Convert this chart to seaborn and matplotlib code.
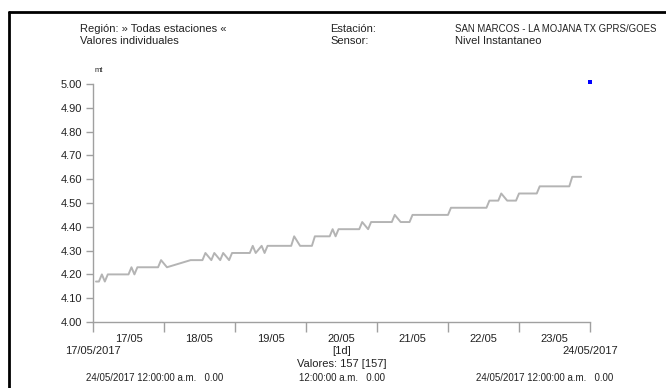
import matplotlib
matplotlib.use('Agg')
import matplotlib.pyplot as plt
import matplotlib.dates as mdates
from matplotlib.lines import Line2D
import seaborn as sns
import pandas as pd

# ---- datos (Nivel Instantaneo, mt) ----
fechas = ['2017-05-17 01:00', '2017-05-17 02:00', '2017-05-17 03:00', '2017-05-17 04:00',
          '2017-05-17 05:00', '2017-05-17 12:00', '2017-05-17 13:00', '2017-05-17 14:00',
          '2017-05-17 15:00', '2017-05-17 22:00', '2017-05-17 23:00', '2017-05-18 01:00',
          '2017-05-18 09:00', '2017-05-18 13:00', '2017-05-18 14:00', '2017-05-18 16:00',
          '2017-05-18 17:00', '2017-05-18 19:00', '2017-05-18 20:00', '2017-05-18 22:00',
          '2017-05-18 23:00', '2017-05-19 05:00', '2017-05-19 06:00', '2017-05-19 07:00',
          '2017-05-19 09:00', '2017-05-19 10:00', '2017-05-19 11:00', '2017-05-19 19:00',
          '2017-05-19 20:00', '2017-05-19 22:00', '2017-05-20 02:00', '2017-05-20 03:00',
          '2017-05-20 08:00', '2017-05-20 09:00', '2017-05-20 10:00', '2017-05-20 11:00',
          '2017-05-20 18:00', '2017-05-20 19:00', '2017-05-20 21:00', '2017-05-20 22:00',
          '2017-05-21 05:00', '2017-05-21 06:00', '2017-05-21 08:00', '2017-05-21 11:00',
          '2017-05-21 12:00', '2017-05-22 00:00', '2017-05-22 01:00', '2017-05-22 13:00',
          '2017-05-22 14:00', '2017-05-22 17:00', '2017-05-22 18:00', '2017-05-22 20:00',
          '2017-05-22 23:00', '2017-05-23 00:00', '2017-05-23 06:00', '2017-05-23 07:00',
          '2017-05-23 17:00', '2017-05-23 18:00', '2017-05-23 21:00']
nivel = [4.17, 4.17, 4.20, 4.17, 4.20, 4.20, 4.23, 4.20,
         4.23, 4.23, 4.26, 4.23, 4.26, 4.26, 4.29, 4.26,
         4.29, 4.26, 4.29, 4.26, 4.29, 4.29, 4.32, 4.29,
         4.32, 4.29, 4.32, 4.32, 4.36, 4.32, 4.32, 4.36,
         4.36, 4.39, 4.36, 4.39, 4.39, 4.42, 4.39, 4.42,
         4.42, 4.45, 4.42, 4.42, 4.45, 4.45, 4.48, 4.48,
         4.51, 4.51, 4.54, 4.51, 4.51, 4.54, 4.54, 4.57,
         4.57, 4.61, 4.61]

# punto azul al final
punto_fecha = ['2017-05-24 00:00']
punto_valor = [5.01]

y_ticks = [4.00, 4.10, 4.20, 4.30, 4.40, 4.50, 4.60, 4.70, 4.80, 4.90, 5.00]

df = pd.DataFrame({'fecha': pd.to_datetime(fechas), 'nivel': nivel})
df_punto = pd.DataFrame({'fecha': pd.to_datetime(punto_fecha), 'nivel': punto_valor})

sns.set_style('white')
plt.rcParams['font.family'] = ['Liberation Sans', 'DejaVu Sans']

W, H = 666, 388
fig = plt.figure(figsize=(W / 100, H / 100), dpi=100)
ax = fig.add_axes([93 / W, 1 - 322 / H, (590 - 93) / W, (322 - 84) / H])

sns.lineplot(data=df, x='fecha', y='nivel', ax=ax, color='#b4b4b4',
             linewidth=1.4, estimator=None)
sns.scatterplot(data=df_punto, x='fecha', y='nivel', ax=ax, color='#0000ff',
                marker='s', s=10, linewidth=0, clip_on=False, zorder=5)

ax.set_xlim(pd.Timestamp('2017-05-17'), pd.Timestamp('2017-05-24'))
ax.set_ylim(4.0, 5.0)
ax.set_xlabel('')
ax.set_ylabel('')

# ejes
for s in ['top', 'right']:
    ax.spines[s].set_visible(False)
for s in ['left', 'bottom']:
    ax.spines[s].set_color('#a0a0a0')
    ax.spines[s].set_linewidth(1.0)

ax.set_yticks(y_ticks)
ax.set_yticklabels([f'{v:.2f}' for v in y_ticks])
ax.tick_params(axis='y', length=5, width=1, color='#a0a0a0', labelsize=8,
               labelcolor='#222222', pad=3, left=True)

ax.xaxis.set_major_locator(mdates.DayLocator())
ax.xaxis.set_major_formatter(plt.NullFormatter())
ax.xaxis.set_minor_locator(mdates.HourLocator(byhour=[12]))
ax.xaxis.set_minor_formatter(mdates.DateFormatter('%d/%m'))
ax.tick_params(axis='x', which='major', length=7, width=1, color='#a0a0a0', bottom=True)
ax.tick_params(axis='x', which='minor', length=0, labelsize=8,
               labelcolor='#222222', pad=9)

# marco negro (recorte)
fig.add_artist(Line2D([9 / W, 9 / W], [0, 1 - 12 / H], color='black', linewidth=2))
fig.add_artist(Line2D([9 / W, 1], [1 - 12 / H, 1 - 12 / H], color='black', linewidth=2))


def texto(x, y, s, ha='left', size=8):
    fig.text(x / W, 1 - y / H, s, ha=ha, va='center', fontsize=size, color='#222222')


# encabezado
texto(80, 29, 'Región: » Todas estaciones «')
texto(80, 41, 'Valores individuales')
texto(330, 29, 'Estación:')
texto(330, 41, 'Sensor:')
texto(455, 29, 'SAN MARCOS - LA MOJANA TX GPRS/GOES', size=6.9)
texto(455, 41, 'Nivel Instantaneo')
texto(95, 70, 'mt', size=5.5)

# pie
texto(93, 351, '17/05/2017', ha='center')
texto(590, 351, '24/05/2017', ha='center')
texto(342, 351, '[1d]', ha='center')
texto(342, 364, 'Valores: 157 [157]', ha='center')
texto(155, 378, '24/05/2017 12:00:00 a.m.   0.00', ha='center', size=7)
texto(342, 378, '12:00:00 a.m.   0.00', ha='center', size=7)
texto(545, 378, '24/05/2017 12:00:00 a.m.   0.00', ha='center', size=7)

fig.savefig('out.png', dpi=100)
